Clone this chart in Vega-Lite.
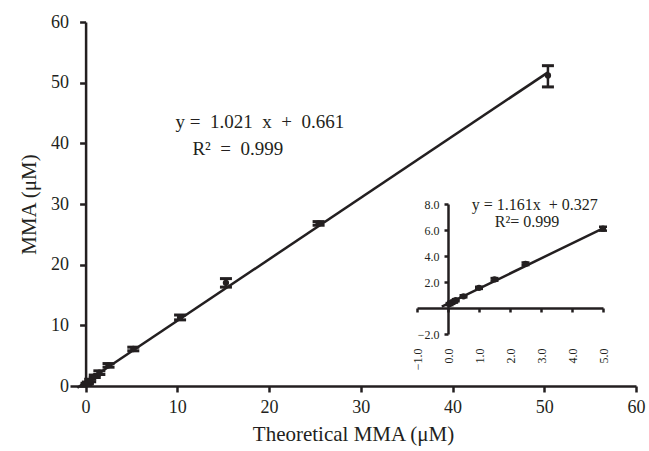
{
  "$schema": "https://vega.github.io/schema/vega-lite/v6.json",
  "width": 566,
  "height": 364,
  "autosize": {"type": "none"},
  "padding": {"left": 70, "top": 22, "right": 13, "bottom": 65},
  "background": "white",
  "config": {
    "view": {"stroke": null},
    "font": "Liberation Serif",
    "axis": {"grid": false, "domainColor": "#231f20", "tickColor": "#231f20", "labelColor": "#231f20", "titleColor": "#231f20", "labelFont": "Liberation Serif", "titleFont": "Liberation Serif", "titleFontWeight": "normal"}
  },
  "datasets": {
    "main": [
      {"tx": 0.1, "mma": 0.3, "lo": 0.15, "hi": 0.45},
      {"tx": 0.25, "mma": 0.5, "lo": 0.35, "hi": 0.65},
      {"tx": 0.5, "mma": 0.9, "lo": 0.7, "hi": 1.1},
      {"tx": 1.0, "mma": 1.6, "lo": 1.4, "hi": 1.8},
      {"tx": 1.5, "mma": 2.2, "lo": 1.9, "hi": 2.5},
      {"tx": 2.5, "mma": 3.4, "lo": 3.1, "hi": 3.7},
      {"tx": 5.2, "mma": 6.1, "lo": 5.8, "hi": 6.4},
      {"tx": 10.3, "mma": 11.3, "lo": 10.9, "hi": 11.7},
      {"tx": 15.3, "mma": 17.0, "lo": 16.3, "hi": 17.7},
      {"tx": 25.4, "mma": 26.8, "lo": 26.5, "hi": 27.1},
      {"tx": 50.4, "mma": 51.2, "lo": 49.3, "hi": 52.8}
    ],
    "mainLine": [
      {"tx": -0.9, "mma": -0.3},
      {"tx": 50.4, "mma": 51.7}
    ],
    "mainText": [
      {"tx": 19.0, "mma": 43.5, "label": "y = \u00a01.021 \u00a0x \u00a0+ \u00a00.661"},
      {"tx": 16.6, "mma": 39.0, "label": "R² \u00a0= \u00a00.999"}
    ],
    "inset": [
      {"ix": 0.05, "iy": 0.3, "ilo": 0.22, "ihi": 0.38},
      {"ix": 0.1, "iy": 0.4, "ilo": 0.32, "ihi": 0.48},
      {"ix": 0.2, "iy": 0.5, "ilo": 0.42, "ihi": 0.58},
      {"ix": 0.25, "iy": 0.6, "ilo": 0.52, "ihi": 0.68},
      {"ix": 0.5, "iy": 0.9, "ilo": 0.82, "ihi": 0.98},
      {"ix": 1.0, "iy": 1.55, "ilo": 1.47, "ihi": 1.63},
      {"ix": 1.5, "iy": 2.2, "ilo": 2.1, "ihi": 2.3},
      {"ix": 2.5, "iy": 3.4, "ilo": 3.3, "ihi": 3.5},
      {"ix": 5.0, "iy": 6.1, "ilo": 5.95, "ihi": 6.25}
    ],
    "insetLine": [
      {"ix": -0.2, "iy": 0.1},
      {"ix": 5.0, "iy": 6.13}
    ],
    "insetText": [
      {"ix": 2.8, "iy": 7.9, "label": "y = 1.161x \u00a0+ 0.327"},
      {"ix": 2.55, "iy": 6.6, "label": "R²= 0.999"}
    ]
  },
  "layer": [
    {
      "layer": [
        {
          "data": {"name": "mainLine"},
          "mark": {"type": "line", "color": "#231f20", "strokeWidth": 2.5, "clip": false},
          "encoding": {
            "x": {"field": "tx", "type": "quantitative", "title": "Theoretical MMA (μM)", "scale": {"domain": [-1.7, 60], "nice": false, "zero": false},
              "axis": {"orient": "bottom", "values": [0, 10, 20, 30, 40, 50, 60], "labelFontSize": 18, "titleFontSize": 21, "domainWidth": 2.5, "tickWidth": 2.5, "tickSize": 6, "labelPadding": 6, "titlePadding": 7, "labelFlush": false}},
            "y": {"field": "mma", "type": "quantitative", "title": "MMA (μM)", "scale": {"domain": [0, 60], "nice": false, "zero": false},
              "axis": {"orient": "left", "offset": -15.6, "values": [0, 10, 20, 30, 40, 50, 60], "labelFontSize": 18, "titleFontSize": 21, "domainWidth": 2.5, "tickWidth": 2.5, "tickSize": 6, "labelPadding": 11, "titlePadding": 11, "labelFlush": false}}
          }
        },
        {
          "data": {"name": "main"},
          "mark": {"type": "rule", "color": "#231f20", "strokeWidth": 2.5},
          "encoding": {
            "x": {"field": "tx", "type": "quantitative", "title": "Theoretical MMA (μM)"},
            "y": {"field": "lo", "type": "quantitative", "title": "MMA (μM)"},
            "y2": {"field": "hi"}
          }
        },
        {
          "data": {"name": "main"},
          "mark": {"type": "tick", "color": "#231f20", "orient": "horizontal", "size": 12, "thickness": 3, "opacity": 1},
          "encoding": {
            "x": {"field": "tx", "type": "quantitative", "title": "Theoretical MMA (μM)"},
            "y": {"field": "lo", "type": "quantitative", "title": "MMA (μM)"}
          }
        },
        {
          "data": {"name": "main"},
          "mark": {"type": "tick", "color": "#231f20", "orient": "horizontal", "size": 12, "thickness": 3, "opacity": 1},
          "encoding": {
            "x": {"field": "tx", "type": "quantitative", "title": "Theoretical MMA (μM)"},
            "y": {"field": "hi", "type": "quantitative", "title": "MMA (μM)"}
          }
        },
        {
          "data": {"name": "main"},
          "mark": {"type": "point", "filled": true, "color": "#231f20", "opacity": 1, "size": 40},
          "encoding": {
            "x": {"field": "tx", "type": "quantitative", "title": "Theoretical MMA (μM)"},
            "y": {"field": "mma", "type": "quantitative", "title": "MMA (μM)"}
          }
        },
        {
          "data": {"name": "mainText"},
          "mark": {"type": "text", "font": "Liberation Serif", "fontSize": 19, "color": "#231f20", "align": "center", "baseline": "middle"},
          "encoding": {
            "x": {"field": "tx", "type": "quantitative", "title": "Theoretical MMA (μM)"},
            "y": {"field": "mma", "type": "quantitative", "title": "MMA (μM)"},
            "text": {"field": "label"}
          }
        }
      ]
    },
    {
      "layer": [
        {
          "data": {"name": "insetLine"},
          "mark": {"type": "line", "color": "#231f20", "strokeWidth": 2.5, "clip": false},
          "encoding": {
            "x": {"field": "ix", "type": "quantitative", "title": null, "scale": {"domain": [-1, 5], "range": [347, 533], "nice": false, "zero": false},
              "axis": {"orient": "bottom", "offset": -78, "values": [-1, 0, 1, 2, 3, 4, 5], "format": ".1f", "labelAngle": -90, "labelFontSize": 12, "domainWidth": 2.5, "tickWidth": 2.5, "tickSize": 4, "labelPadding": 36, "labelFlush": false, "labelOverlap": false}},
            "y": {"field": "iy", "type": "quantitative", "title": null, "scale": {"domain": [-2, 8], "range": [312, 182], "nice": false, "zero": false},
              "axis": {"orient": "left", "offset": -378, "values": [-2, 2, 4, 6, 8], "format": ".1f", "labelFontSize": 12, "domainWidth": 2.5, "tickWidth": 2.5, "tickSize": 4, "labelPadding": 5, "labelFlush": false, "labelOverlap": false}}
          }
        },
        {
          "data": {"name": "inset"},
          "mark": {"type": "rule", "color": "#231f20", "strokeWidth": 2},
          "encoding": {
            "x": {"field": "ix", "type": "quantitative", "title": null},
            "y": {"field": "ilo", "type": "quantitative", "title": null},
            "y2": {"field": "ihi"}
          }
        },
        {
          "data": {"name": "inset"},
          "mark": {"type": "tick", "color": "#231f20", "orient": "horizontal", "size": 8, "thickness": 2.5, "opacity": 1},
          "encoding": {
            "x": {"field": "ix", "type": "quantitative", "title": null},
            "y": {"field": "ilo", "type": "quantitative", "title": null}
          }
        },
        {
          "data": {"name": "inset"},
          "mark": {"type": "tick", "color": "#231f20", "orient": "horizontal", "size": 8, "thickness": 2.5, "opacity": 1},
          "encoding": {
            "x": {"field": "ix", "type": "quantitative", "title": null},
            "y": {"field": "ihi", "type": "quantitative", "title": null}
          }
        },
        {
          "data": {"name": "inset"},
          "mark": {"type": "point", "filled": true, "color": "#231f20", "opacity": 1, "size": 40},
          "encoding": {
            "x": {"field": "ix", "type": "quantitative", "title": null},
            "y": {"field": "iy", "type": "quantitative", "title": null}
          }
        },
        {
          "data": {"name": "insetText"},
          "mark": {"type": "text", "font": "Liberation Serif", "fontSize": 16, "color": "#231f20", "align": "center", "baseline": "middle"},
          "encoding": {
            "x": {"field": "ix", "type": "quantitative", "title": null},
            "y": {"field": "iy", "type": "quantitative", "title": null},
            "text": {"field": "label"}
          }
        }
      ]
    }
  ],
  "resolve": {"scale": {"x": "independent", "y": "independent"}}
}
